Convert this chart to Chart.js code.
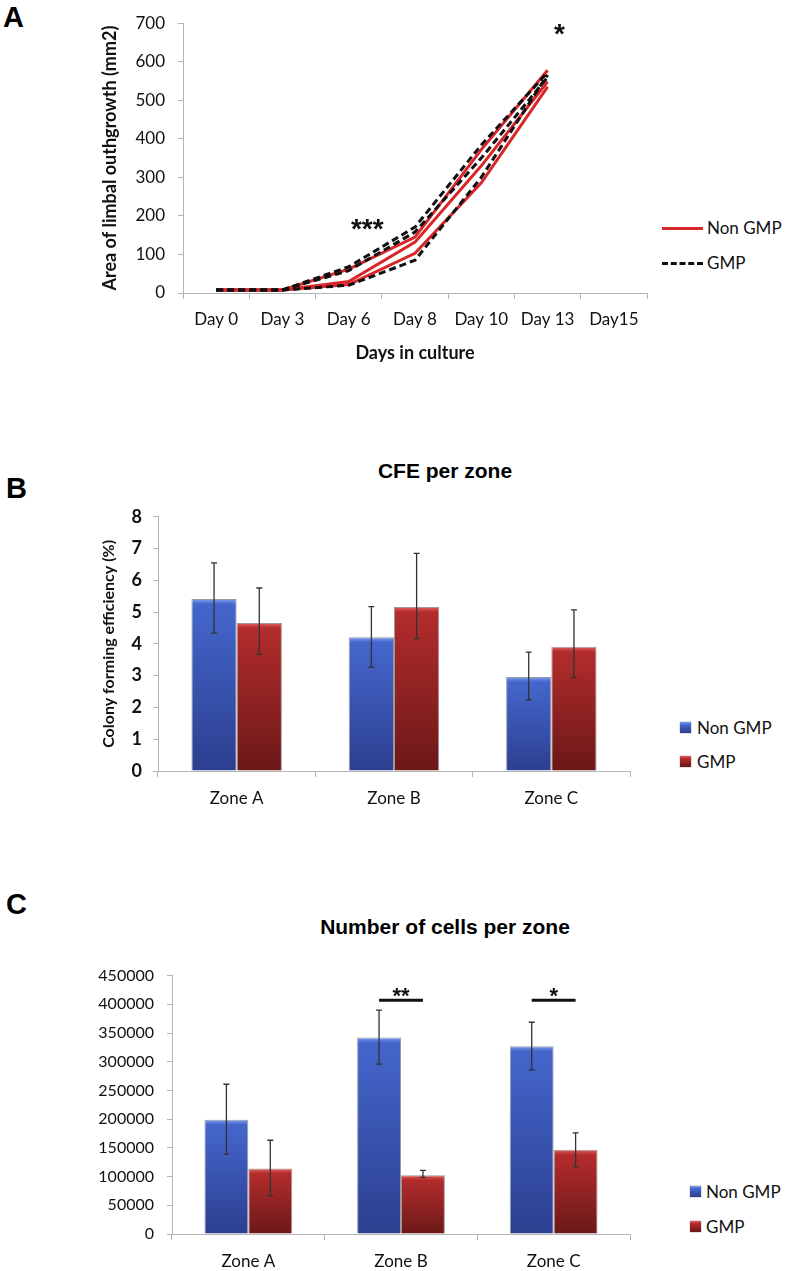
<!DOCTYPE html>
<html>
<head>
<meta charset="utf-8">
<script src="https://cdn.jsdelivr.net/npm/chart.js@4.4.0/dist/chart.umd.min.js"></script>
<style>
  body { margin: 0; width: 790px; height: 1271px; background: #fff; position: relative; overflow: hidden; }
  .box { position: absolute; }
  .letter { position: absolute; font: bold 29px "Liberation Sans", Arial, sans-serif; color: #000; line-height: 29px; }
  .title { position: absolute; left: 245px; width: 400px; text-align: center; font: bold 21px "Liberation Sans", Arial, sans-serif; color: #000; line-height: 24px; }
  .legtxt { position: absolute; font: 17px Lato, sans-serif; color: #111; line-height: 20px; white-space: nowrap; }
  .swline { position: absolute; width: 41px; height: 0; }
  .sq { position: absolute; width: 11px; height: 11px; }
  .blue { background: linear-gradient(#7da0f0, #4466cc 25%, #2c3f8f); box-shadow: 0 0 1px #555; }
  .red { background: linear-gradient(#e06060, #b32c2c 25%, #6b1818); box-shadow: 0 0 1px #555; }
</style>
</head>
<body>
<div class="letter" style="left:3px; top:3px;">A</div>
<div class="letter" style="left:6px; top:474px;">B</div>
<div class="letter" style="left:6px; top:890px;">C</div>

<div class="box" style="left:95px; top:0px; width:565px; height:368px;"><canvas id="growth"></canvas></div>
<div class="swline" style="left:662px; top:227px; border-top:3px solid #d8262a;"></div>
<div class="legtxt" style="left:707px; top:218px;">Non GMP</div>
<div class="swline" style="left:662px; top:262px; border-top:3px dashed #111;"></div>
<div class="legtxt" style="left:707px; top:253px;">GMP</div>

<div class="title" style="top:459px;">CFE per zone</div>
<div class="box" style="left:95px; top:495px; width:545px; height:316px;"><canvas id="cfe"></canvas></div>
<div class="sq blue" style="left:680px; top:722px;"></div>
<div class="legtxt" style="left:697px; top:718px;">Non GMP</div>
<div class="sq red" style="left:680px; top:756px;"></div>
<div class="legtxt" style="left:697px; top:752px;">GMP</div>

<div class="title" style="top:915px;">Number of cells per zone</div>
<div class="box" style="left:95px; top:953px; width:545px; height:318px;"><canvas id="cells"></canvas></div>
<div class="sq blue" style="left:690px; top:1186px;"></div>
<div class="legtxt" style="left:706px; top:1182px;">Non GMP</div>
<div class="sq red" style="left:690px; top:1221px;"></div>
<div class="legtxt" style="left:706px; top:1217px;">GMP</div>

<script>
// panel A - outgrowth area per explant
const days = ['Day 0', 'Day 3', 'Day 6', 'Day 8', 'Day 10', 'Day 13', 'Day15'];
const nonGmpRun1 = [8, 8, 62, 145, 372, 578, null];
const nonGmpRun2 = [8, 8, 30, 132, 330, 548, null];
const nonGmpRun3 = [8, 8, 22, 103, 286, 535, null];
const gmpRun1 = [8, 8, 68, 171, 384, 572, null];
const gmpRun2 = [8, 8, 58, 158, 350, 560, null];
const gmpRun3 = [8, 8, 20, 85, 300, 566, null];
const areaMax = 700, areaStep = 100;
// stars: category index (fractional) and value
const growthStars = [{ idx: 2.28, value: 184, text: '***' }, { idx: 5.18, value: 690, text: '*' }];

// panel B - CFE
const zones = ['Zone A', 'Zone B', 'Zone C'];
const cfeNonGmp = [5.41, 4.21, 2.96];
const cfeGmp = [4.66, 5.16, 3.91];
const cfeNonGmpLow = [4.34, 3.26, 2.24];
const cfeNonGmpHigh = [6.55, 5.17, 3.74];
const cfeGmpLow = [3.67, 4.17, 2.94];
const cfeGmpHigh = [5.76, 6.85, 5.07];
const cfeMax = 8, cfeStep = 1;

// panel C - cell counts
const cellsNonGmp = [199000, 342000, 327000];
const cellsGmp = [114000, 102500, 146700];
const cellsNonGmpLow = [139000, 296000, 285700];
const cellsNonGmpHigh = [260800, 390000, 368800];
const cellsGmpLow = [67000, 98500, 116800];
const cellsGmpHigh = [163300, 110700, 176000];
const cellsMax = 450000, cellsStep = 50000;
const cellsSig = [{ zone: 1, value: 407000, text: '**' }, { zone: 2, value: 407000, text: '*' }];

Chart.defaults.font.family = 'Lato, sans-serif';
Chart.defaults.color = '#222';
Chart.defaults.animation = false;
Chart.defaults.plugins.legend.display = false;
Chart.defaults.plugins.tooltip.enabled = false;

const axisGrey = '#b5b5b5';

function starText(ctx, text, x, yCenter, size) {
  ctx.save();
  ctx.fillStyle = '#111';
  ctx.font = 'bold ' + size + 'px "Liberation Sans", Arial, sans-serif';
  ctx.textAlign = 'center';
  ctx.textBaseline = 'alphabetic';
  ctx.fillText(text, x, yCenter + size * 0.58);
  ctx.restore();
}

const starsPlugin = {
  id: 'stars',
  afterDatasetsDraw(chart, args, opts) {
    const x = chart.scales.x, y = chart.scales.y;
    opts.marks.forEach(m => {
      const i = Math.floor(m.idx), f = m.idx - i;
      const px = x.getPixelForValue(i) + f * (x.getPixelForValue(i + 1) - x.getPixelForValue(i));
      starText(chart.ctx, m.text, px, y.getPixelForValue(m.value), 28);
    });
  }
};

const errorBars = {
  id: 'errorBars',
  afterDatasetsDraw(chart) {
    const ctx = chart.ctx, y = chart.scales.y;
    chart.data.datasets.forEach((ds, d) => {
      if (!ds.errLow) return;
      chart.getDatasetMeta(d).data.forEach((bar, i) => {
        const top = y.getPixelForValue(ds.errHigh[i]);
        const bot = y.getPixelForValue(ds.errLow[i]);
        ctx.save();
        ctx.strokeStyle = '#333';
        ctx.lineWidth = 1.3;
        ctx.beginPath();
        ctx.moveTo(bar.x, top); ctx.lineTo(bar.x, bot);
        ctx.moveTo(bar.x - 3, top); ctx.lineTo(bar.x + 3, top);
        ctx.moveTo(bar.x - 3, bot); ctx.lineTo(bar.x + 3, bot);
        ctx.stroke();
        ctx.restore();
      });
    });
  }
};

const sigPlugin = {
  id: 'sig',
  afterDatasetsDraw(chart, args, opts) {
    if (!opts.marks) return;
    const ctx = chart.ctx, y = chart.scales.y;
    const a = chart.getDatasetMeta(0).data, b = chart.getDatasetMeta(1).data;
    opts.marks.forEach(m => {
      const py = y.getPixelForValue(m.value);
      ctx.save();
      ctx.strokeStyle = '#111';
      ctx.lineWidth = 3;
      ctx.beginPath();
      ctx.moveTo(a[m.zone].x, py); ctx.lineTo(b[m.zone].x, py);
      ctx.stroke();
      ctx.restore();
      starText(ctx, m.text, (a[m.zone].x + b[m.zone].x) / 2, py - 10, 22);
    });
  }
};

function barFill(light, top, bottom) {
  return function (c) {
    const chart = c.chart;
    if (!chart.chartArea || !c.parsed) return top;
    const y = chart.scales.y;
    const y0 = y.getPixelForValue(c.parsed.y), y1 = y.getPixelForValue(0);
    const g = chart.ctx.createLinearGradient(0, y0, 0, y1);
    g.addColorStop(0, light);
    g.addColorStop(Math.min(0.5, 5 / Math.max(1, y1 - y0)), top);
    g.addColorStop(1, bottom);
    return g;
  };
}

function lineSet(data, gmp) {
  return {
    data: data,
    borderColor: gmp ? '#111' : '#d8262a',
    borderWidth: 3,
    borderDash: gmp ? [7, 4] : [],
    pointRadius: 0,
    tension: 0,
    fill: false
  };
}

new Chart(document.getElementById('growth'), {
  type: 'line',
  data: {
    labels: days,
    datasets: [
      lineSet(gmpRun1, true), lineSet(gmpRun2, true), lineSet(gmpRun3, true),
      lineSet(nonGmpRun1, false), lineSet(nonGmpRun2, false), lineSet(nonGmpRun3, false)
    ]
  },
  options: {
    responsive: true,
    maintainAspectRatio: false,
    layout: { padding: { top: 20, right: 13 } },
    plugins: { stars: { marks: growthStars } },
    scales: {
      x: {
        offset: true,
        grid: { offset: true, drawOnChartArea: false, tickLength: 6, color: axisGrey },
        border: { color: axisGrey },
        ticks: { font: { size: 17 }, padding: 10, maxRotation: 0, color: '#111' },
        title: { display: true, text: 'Days in culture', font: { size: 18, weight: 'bold' }, color: '#111' },
        afterFit: s => { s.height = 75; }
      },
      y: {
        min: 0, max: areaMax,
        grid: { drawOnChartArea: false, tickLength: 5, color: axisGrey },
        border: { color: axisGrey },
        ticks: { stepSize: areaStep, font: { size: 17 }, padding: 13, color: '#111' },
        title: { display: true, text: 'Area of limbal outhgrowth (mm2)', font: { size: 18, weight: 'bold' }, color: '#111' },
        afterFit: s => { s.width = 88; }
      }
    }
  },
  plugins: [starsPlugin]
});

function zoneBars(id, nonGmp, gmp, errs, yOpts, sig) {
  return new Chart(document.getElementById(id), {
    type: 'bar',
    data: {
      labels: zones,
      datasets: [
        { label: 'Non GMP', data: nonGmp, errLow: errs[0], errHigh: errs[1],
          backgroundColor: barFill('#7da0f0', '#4466cc', '#2c3f8f'),
          borderColor: 'rgba(30,30,60,0.45)', borderWidth: 1,
          categoryPercentage: 0.575, barPercentage: 1 },
        { label: 'GMP', data: gmp, errLow: errs[2], errHigh: errs[3],
          backgroundColor: barFill('#e06060', '#b32c2c', '#6b1818'),
          borderColor: 'rgba(60,20,20,0.45)', borderWidth: 1,
          categoryPercentage: 0.575, barPercentage: 1 }
      ]
    },
    options: {
      responsive: true,
      maintainAspectRatio: false,
      layout: { padding: { top: 10, right: 10 } },
      plugins: { sig: { marks: sig } },
      scales: {
        x: {
          grid: { offset: true, drawOnChartArea: false, tickLength: 6, color: axisGrey },
          border: { color: axisGrey },
          ticks: { font: { size: 17 }, padding: 11, color: '#111' },
          afterFit: s => { s.height = yOpts.xHeight; }
        },
        y: yOpts.y
      }
    },
    plugins: [errorBars, sigPlugin]
  });
}

zoneBars('cfe', cfeNonGmp, cfeGmp, [cfeNonGmpLow, cfeNonGmpHigh, cfeGmpLow, cfeGmpHigh], {
  xHeight: 40,
  y: {
    min: 0, max: cfeMax,
    grid: { drawOnChartArea: false, tickLength: 5, color: axisGrey },
    border: { color: axisGrey },
    ticks: { stepSize: cfeStep, font: { size: 18, weight: 'bold' }, padding: 11, color: '#111' },
    title: { display: true, text: 'Colony forming efficiency (%)', font: { size: 16, weight: 'bold' }, color: '#111' },
    afterFit: s => { s.width = 63; }
  }
}, null);

zoneBars('cells', cellsNonGmp, cellsGmp, [cellsNonGmpLow, cellsNonGmpHigh, cellsGmpLow, cellsGmpHigh], {
  xHeight: 37,
  y: {
    min: 0, max: cellsMax,
    grid: { drawOnChartArea: false, tickLength: 5, color: axisGrey },
    border: { color: axisGrey },
    ticks: { stepSize: cellsStep, font: { size: 16 }, padding: 13, color: '#111', callback: v => String(v) },
    afterFit: s => { s.width = 77; }
  }
}, cellsSig);
</script>
</body>
</html>
